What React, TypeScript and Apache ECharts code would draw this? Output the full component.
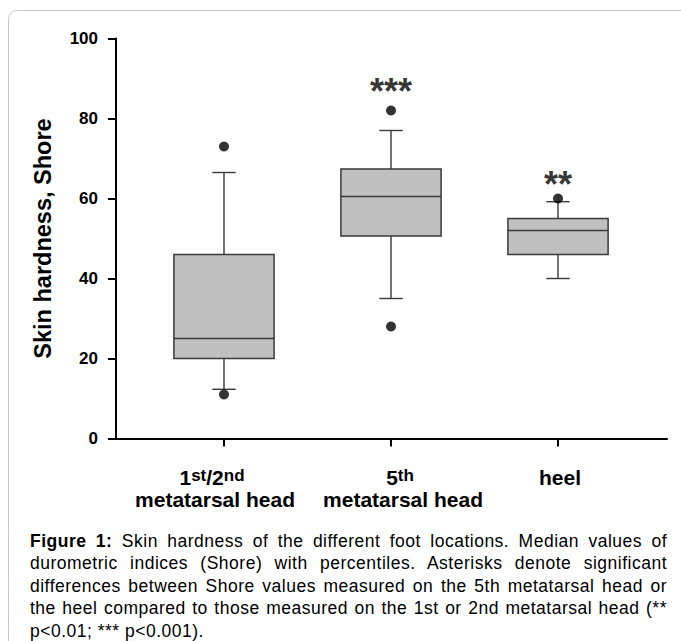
import React, { useEffect, useRef } from "react";
import * as echarts from "echarts";

// ---- data ----
const categories = ["1st/2nd metatarsal head", "5th metatarsal head", "heel"];
const categoryLabels = [
  "{n|1}{sup|st}{n|/2}{supPadR|nd}\n{nPadR|metatarsal head}",
  "{nPadL|5}{sup|th}\n{nPadL2|metatarsal head}",
  "{nPadL3|heel}",
];
const whiskerLow = [12.3, 35, 40];
const quartile1 = [20, 50.6, 46];
const medians = [25, 60.5, 52];
const quartile3 = [46, 67.4, 55];
const whiskerHigh = [66.5, 77, 59.2];
const outliers: [number, number][] = [
  [0, 73],
  [0, 11],
  [1, 82],
  [1, 28],
  [2, 60],
];
const significance = ["", "***", "**"];
const significanceAt = [0, 86.8, 63.6];
const yTicks = { min: 0, max: 100, interval: 20 };

const captionLines = [
  "Skin hardness of the different foot locations. Median values of",
  "durometric indices (Shore) with percentiles. Asterisks denote significant",
  "differences between Shore values measured on the 5th metatarsal head or",
  "the heel compared to those measured on the 1st or 2nd metatarsal head (**",
  "p<0.01; *** p<0.001).",
];

const FONT = "'Liberation Sans', Arial, Helvetica, sans-serif";

export default function App() {
  const ref = useRef<HTMLDivElement>(null);

  useEffect(() => {
    if (!ref.current) return;
    const chart = echarts.init(ref.current, undefined, { renderer: "svg" });

    const boxData = categories.map((_, i) => [
      i,
      whiskerLow[i],
      quartile1[i],
      medians[i],
      quartile3[i],
      whiskerHigh[i],
    ]);

    const sigData = significance
      .map((s, i) => ({ s, i }))
      .filter((d) => d.s)
      .map((d) => ({ value: [d.i, significanceAt[d.i]], name: d.s }));

    const edge = "#3a3a3a";
    const nBase = {
      fontSize: 21,
      fontWeight: "bold",
      fontFamily: FONT,
      color: "#000",
      lineHeight: 22,
    };
    const supBase = {
      fontSize: 17,
      fontWeight: "bold",
      fontFamily: FONT,
      color: "#000",
      lineHeight: 14,
      verticalAlign: "top",
    };

    chart.setOption({
      animation: false,
      backgroundColor: "transparent",
      textStyle: { fontFamily: FONT },
      grid: [
        { left: 116, right: 14, top: 38.5, bottom: 202.5 },
        { left: 140.5, right: 39.5, top: 38.5, bottom: 202.5 },
      ],
      xAxis: [
        {
          type: "value",
          gridIndex: 0,
          min: 0,
          max: 1,
          axisLine: { show: true, lineStyle: { color: "#000", width: 2 } },
          axisTick: { show: false },
          axisLabel: { show: false },
          splitLine: { show: false },
        },
        {
          type: "category",
          gridIndex: 1,
          data: categories,
          axisLine: { show: false },
          axisTick: {
            show: true,
            alignWithLabel: true,
            length: 8,
            lineStyle: { color: "#000", width: 2 },
          },
          axisLabel: {
            margin: 28,
            interval: 0,
            formatter: (_v: string, idx: number) => categoryLabels[idx],
            rich: {
              n: { ...nBase },
              nPadR: { ...nBase, padding: [0, 18, 0, 0] },
              nPadL: { ...nBase, padding: [0, 0, 0, 18] },
              nPadL2: { ...nBase, padding: [0, 0, 0, 24] },
              nPadL3: { ...nBase, padding: [0, 0, 0, 4] },
              sup: { ...supBase },
              supPadR: { ...supBase, padding: [0, 24, 0, 0] },
            },
          },
          splitLine: { show: false },
        },
      ],
      yAxis: [
        {
          type: "value",
          gridIndex: 0,
          min: yTicks.min,
          max: yTicks.max,
          interval: yTicks.interval,
          name: "Skin hardness, Shore",
          nameLocation: "middle",
          nameGap: 61,
          nameTextStyle: {
            fontSize: 23.5,
            fontWeight: "bold",
            color: "#000",
            fontFamily: FONT,
          },
          axisLine: { show: true, lineStyle: { color: "#000", width: 2 } },
          axisTick: {
            show: true,
            length: 8,
            lineStyle: { color: "#000", width: 2 },
          },
          axisLabel: {
            margin: 18,
            fontSize: 17,
            fontWeight: "bold",
            color: "#000",
            fontFamily: FONT,
          },
          splitLine: { show: false },
        },
        {
          type: "value",
          gridIndex: 1,
          min: yTicks.min,
          max: yTicks.max,
          interval: yTicks.interval,
          show: false,
          splitLine: { show: false },
        },
      ],
      series: [
        {
          type: "custom",
          xAxisIndex: 1,
          yAxisIndex: 1,
          data: boxData,
          encode: { x: 0, y: [1, 2, 3, 4, 5] },
          renderItem: (params: any, api: any) => {
            const x = api.value(0);
            const low = api.coord([x, api.value(1)]);
            const q1 = api.coord([x, api.value(2)]);
            const med = api.coord([x, api.value(3)]);
            const q3 = api.coord([x, api.value(4)]);
            const high = api.coord([x, api.value(5)]);
            const band = api.size([1, 0])[0];
            const bw = band * 0.6;
            const cw = band * 0.14;
            const cx = med[0];
            const ls = { stroke: edge, lineWidth: 1.4 };
            return {
              type: "group",
              children: [
                {
                  type: "line",
                  shape: { x1: cx, y1: high[1], x2: cx, y2: q3[1] },
                  style: ls,
                },
                {
                  type: "line",
                  shape: { x1: cx, y1: q1[1], x2: cx, y2: low[1] },
                  style: ls,
                },
                {
                  type: "line",
                  shape: { x1: cx - cw / 2, y1: high[1], x2: cx + cw / 2, y2: high[1] },
                  style: ls,
                },
                {
                  type: "line",
                  shape: { x1: cx - cw / 2, y1: low[1], x2: cx + cw / 2, y2: low[1] },
                  style: ls,
                },
                {
                  type: "rect",
                  shape: { x: cx - bw / 2, y: q3[1], width: bw, height: q1[1] - q3[1] },
                  style: { fill: "#c0c0c0", stroke: edge, lineWidth: 1.5 },
                },
                {
                  type: "line",
                  shape: { x1: cx - bw / 2, y1: med[1], x2: cx + bw / 2, y2: med[1] },
                  style: { stroke: edge, lineWidth: 1.5 },
                },
              ],
            };
          },
          z: 2,
        },
        {
          type: "scatter",
          xAxisIndex: 1,
          yAxisIndex: 1,
          data: outliers,
          symbol: "circle",
          symbolSize: 10,
          itemStyle: { color: "#000" },
          z: 3,
        },
        {
          type: "scatter",
          xAxisIndex: 1,
          yAxisIndex: 1,
          data: sigData,
          symbolSize: 1,
          itemStyle: { color: "rgba(0,0,0,0)" },
          label: {
            show: true,
            position: "inside",
            formatter: (p: any) => p.name,
            fontSize: 36,
            fontWeight: "bold",
            color: "#000",
            fontFamily: FONT,
          },
          z: 4,
        },
      ],
    });

    return () => chart.dispose();
  }, []);

  const lineStyleJ: React.CSSProperties = {
    display: "block",
    textAlign: "justify",
    textAlignLast: "justify" as any,
    whiteSpace: "nowrap",
  };

  return (
    <div
      style={{
        position: "fixed",
        left: 0,
        top: 0,
        width: 681,
        height: 641,
        background: "#fff",
        overflow: "hidden",
      }}
    >
      <div
        style={{
          position: "absolute",
          left: 8,
          top: 10,
          width: 720,
          height: 700,
          border: "1.5px solid #c8c8c8",
          borderRadius: 9,
          boxSizing: "border-box",
        }}
      />
      <div
        ref={ref}
        style={{ position: "absolute", left: 0, top: 0, width: 681, height: 641 }}
      />
      <div
        style={{
          position: "absolute",
          left: 30,
          top: 530,
          width: 637,
          fontFamily: FONT,
          fontSize: 17.5,
          letterSpacing: "0.5px",
          lineHeight: "22.4px",
          color: "#000",
        }}
      >
        {captionLines.map((t, i) => (
          <span
            key={i}
            style={
              i < captionLines.length - 1
                ? lineStyleJ
                : { display: "block", textAlign: "left", whiteSpace: "nowrap" }
            }
          >
            {i === 0 ? (
              <>
                <b>Figure 1:</b> {t}
              </>
            ) : (
              t
            )}
          </span>
        ))}
      </div>
    </div>
  );
}
